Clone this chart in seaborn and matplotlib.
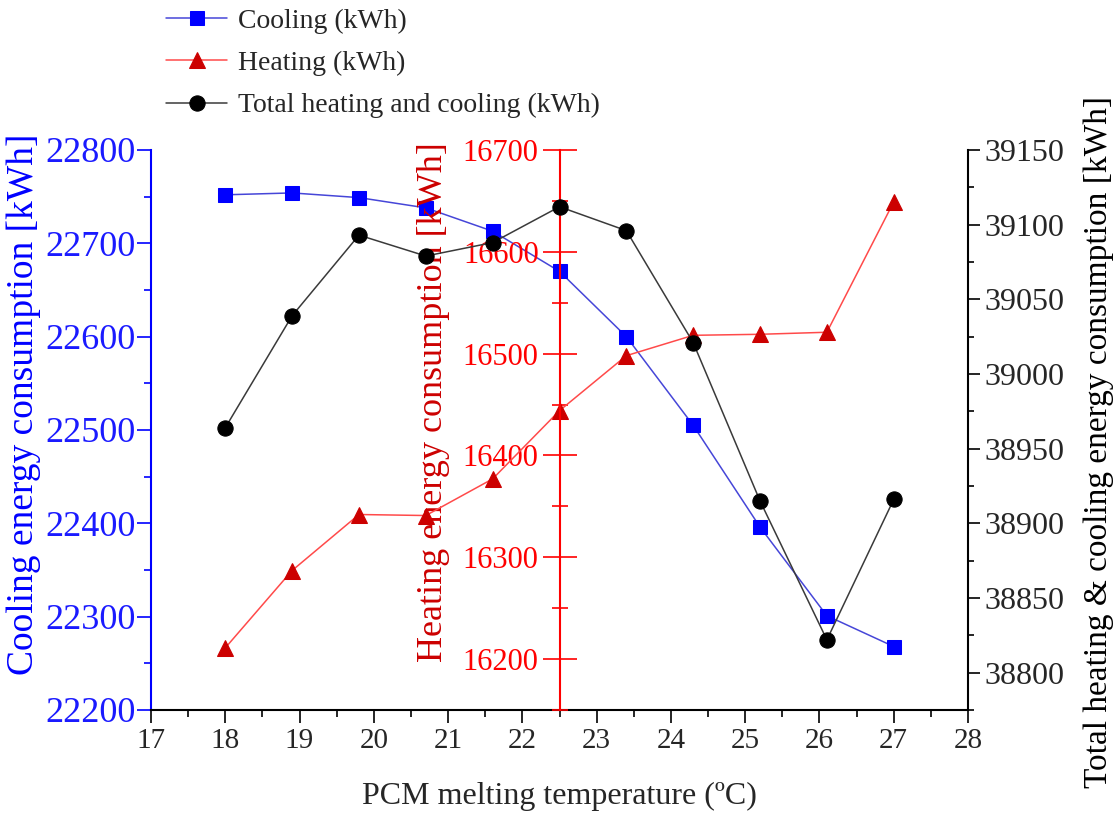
import numpy as np
import pandas as pd
import matplotlib
matplotlib.use('Agg')
import matplotlib.pyplot as plt
from matplotlib.ticker import MultipleLocator
import seaborn as sns

# style
sns.set_theme(style='white')
plt.rcParams['font.family'] = ['Liberation Serif', 'DejaVu Serif']

# data
temperature = [18.0, 18.9, 19.8, 20.7, 21.6, 22.5, 23.4, 24.3, 25.2, 26.1, 27.0]
cooling = [22752, 22754, 22749, 22738, 22713, 22670, 22600, 22505, 22396, 22301, 22268]
heating = [16211, 16287, 16342, 16341, 16377, 16444, 16498, 16518, 16519, 16521, 16649]
total = [38964, 39039, 39093, 39079, 39088, 39112, 39096, 39021, 38915, 38822, 38916]

df = pd.DataFrame({'T': temperature, 'Cooling': cooling, 'Heating': heating, 'Total': total})

fig = plt.figure(figsize=(11.19, 8.19), dpi=100)
ax = fig.add_axes([151 / 1119, 1 - 710 / 819, 817 / 1119, 560 / 819])
ax2 = ax.twinx()
ax3 = ax.twinx()

# cooling (left blue axis)
sns.lineplot(data=df, x='T', y='Cooling', ax=ax, color='#4646d8', linewidth=1.1,
             marker='s', markersize=10, markerfacecolor='#0000ff', markeredgecolor='#0000ff',
             label='Cooling (kWh)')
# heating (red axis in the middle)
sns.lineplot(data=df, x='T', y='Heating', ax=ax2, color='#ff4a4a', linewidth=1.1,
             marker='^', markersize=12, markerfacecolor='#cc0000', markeredgecolor='#cc0000',
             label='Heating (kWh)')
# total (right black axis)
sns.lineplot(data=df, x='T', y='Total', ax=ax3, color='#3a3a3a', linewidth=1.1,
             marker='o', markersize=11, markerfacecolor='black', markeredgecolor='black',
             label='Total heating and cooling (kWh)')

handles, labels = [], []
for a in (ax, ax2, ax3):
    h, l = a.get_legend_handles_labels()
    handles += h
    labels += l
    if a.get_legend() is not None:
        a.get_legend().remove()

fig.legend(handles, labels, loc='upper left', bbox_to_anchor=(155 / 1119, 1.003),
           frameon=False, fontsize=20, handlelength=2.2, handletextpad=0.4,
           labelspacing=0.6, borderaxespad=0)

# x axis
ax.set_xlim(17, 28)
ax.xaxis.set_major_locator(MultipleLocator(1))
ax.xaxis.set_minor_locator(MultipleLocator(0.5))
ax.tick_params(axis='x', which='major', direction='out', length=9, width=1.2,
               color='black', labelsize=21, pad=4, bottom=True)
ax.tick_params(axis='x', which='minor', direction='out', length=5, width=1.2,
               color='black', bottom=True)
ax.set_xlabel('PCM melting temperature (ºC)', fontsize=23, labelpad=20)

# left axis
ax.set_ylim(22200, 22800)
ax.yaxis.set_major_locator(MultipleLocator(100))
ax.yaxis.set_minor_locator(MultipleLocator(50))
ax.tick_params(axis='y', which='major', direction='out', length=10, width=1.2,
               color='#0000ff', labelcolor='#1a1aff', labelsize=26, pad=1, left=True)
ax.tick_params(axis='y', which='minor', direction='out', length=5, width=1.2,
               color='#0000ff', left=True)
ax.set_ylabel('Cooling energy consumption [kWh]', fontsize=27, color='#0000ff')
ax.yaxis.set_label_coords((41 - 151) / 817, 0.546)

# middle red axis
ax2.set_ylim(16150, 16700)
ax2.spines['left'].set_position(('data', 22.5))
ax2.spines['left'].set_visible(True)
ax2.spines['left'].set_color('red')
ax2.spines['left'].set_linewidth(1.5)
ax2.yaxis.tick_left()
ax2.yaxis.set_label_position('left')
ax2.set_yticks(np.arange(16200, 16701, 100))
ax2.yaxis.set_minor_locator(MultipleLocator(50))
ax2.tick_params(axis='y', which='major', direction='inout', length=24, width=1.2,
                color='red', labelcolor='red', labelsize=22, pad=3)
ax2.tick_params(axis='y', which='minor', direction='inout', length=12, width=1.2,
                color='red')
ax2.set_ylabel('Heating energy consumption [kWh]', fontsize=26, color='#cc0000')
ax2.yaxis.set_label_coords((450 - 151) / 817, 0.55)

# right axis
ax3.set_ylim(38775, 39150)
ax3.set_yticks(np.arange(38800, 39151, 50))
ax3.yaxis.set_minor_locator(MultipleLocator(25))
ax3.tick_params(axis='y', which='major', direction='out', length=8.5, width=1.2,
                color='black', labelsize=23, pad=3, right=True)
ax3.tick_params(axis='y', which='minor', direction='out', length=4.5, width=1.2,
                color='black', right=True)
ax3.set_ylabel('Total heating & cooling energy consumption [kWh]', fontsize=24,
               color='black')
ax3.yaxis.set_label_coords((1083 - 151) / 817, 0.479)

# spines
for s in ('top', 'right'):
    ax.spines[s].set_visible(False)
ax.spines['left'].set_color('#0000ff')
ax.spines['left'].set_linewidth(1.5)
ax.spines['bottom'].set_color('black')
ax.spines['bottom'].set_linewidth(1.5)
for s in ('top', 'bottom', 'right'):
    ax2.spines[s].set_visible(False)
for s in ('top', 'bottom', 'left'):
    ax3.spines[s].set_visible(False)
ax3.spines['right'].set_color('black')
ax3.spines['right'].set_linewidth(1.5)
ax2.patch.set_visible(False)
ax3.patch.set_visible(False)

fig.savefig('out.png', dpi=100)
